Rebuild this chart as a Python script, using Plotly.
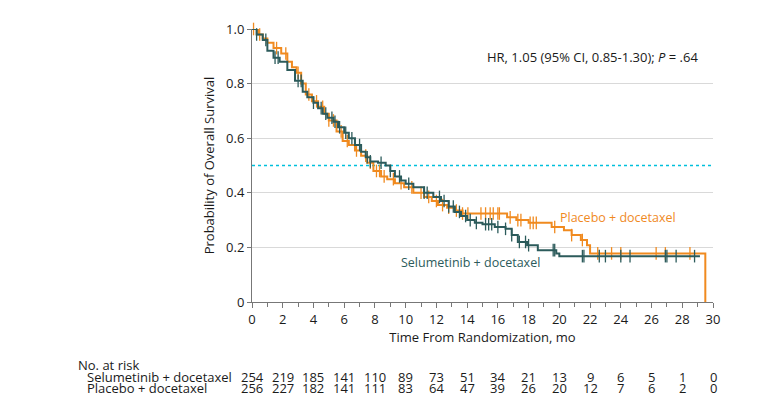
import plotly.graph_objects as go

# Kaplan-Meier step points (months, survival probability)
sel_t = [0, 0.3, 0.7, 1.0, 1.4, 1.8, 2.3, 2.8, 3.3, 3.6, 4.0, 4.3, 4.6, 4.9, 5.3, 5.6, 6.0,
         6.3, 6.7, 7.1, 7.4, 7.7, 8.2, 8.7, 9.0, 9.3, 9.7, 10.0, 10.5, 11.2, 11.8, 12.3,
         12.8, 13.2, 13.6, 14.0, 14.5, 15.0, 15.8, 16.5, 16.9, 17.3, 17.9, 18.6, 19.8,
         20.0, 29.15]
sel_s = [1.00, 0.98, 0.96, 0.92, 0.895, 0.88, 0.85, 0.81, 0.77, 0.75, 0.73, 0.71, 0.69,
         0.675, 0.66, 0.64, 0.62, 0.60, 0.575, 0.55, 0.53, 0.515, 0.51, 0.50, 0.48, 0.46,
         0.445, 0.433, 0.42, 0.40, 0.385, 0.37, 0.35, 0.33, 0.315, 0.30, 0.29, 0.285,
         0.275, 0.268, 0.245, 0.22, 0.208, 0.19, 0.178, 0.168, 0.168]

pla_t = [0, 0.4, 0.7, 1.0, 1.4, 1.9, 2.3, 2.6, 2.9, 3.2, 3.5, 3.9, 4.3, 4.7, 5.0, 5.5, 5.9,
         6.3, 6.7, 7.1, 7.5, 7.9, 8.4, 8.8, 9.3, 9.9, 10.5, 11.2, 11.7, 12.1, 12.7, 13.2,
         13.7, 16.6, 17.2, 18.0, 19.5, 20.3, 20.8, 21.4, 21.8, 22.0, 29.5]
pla_s = [1.00, 0.98, 0.965, 0.95, 0.93, 0.91, 0.88, 0.86, 0.84, 0.80, 0.76, 0.735, 0.715,
         0.69, 0.665, 0.625, 0.59, 0.575, 0.555, 0.536, 0.51, 0.48, 0.46, 0.45, 0.435,
         0.42, 0.40, 0.385, 0.37, 0.355, 0.345, 0.335, 0.324, 0.31, 0.30, 0.29, 0.275,
         0.263, 0.245, 0.227, 0.208, 0.178, 0.0]

# censoring times
sel_cens = [0.3, 0.9, 1.5, 1.7, 3.0, 3.2, 4.0, 4.5, 4.8, 5.2, 5.4, 5.7, 6.1, 6.5, 7.0, 7.5,
            7.7, 8.4, 9.0, 9.6, 10.2, 11.2, 11.4, 12.2, 12.5, 12.8, 13.1, 13.5, 13.9, 14.2,
            14.6, 15.2, 15.4, 15.6, 16.0, 16.5, 16.9, 17.4, 17.8, 18.0, 19.6, 19.7, 21.5,
            21.6, 22.6, 23.0, 24.0, 24.6, 26.9, 27.0, 27.6, 28.8]
pla_cens = [0.1, 0.5, 1.6, 2.2, 3.0, 3.7, 4.2, 4.6, 5.0, 5.3, 5.8, 6.2, 6.8, 7.4, 7.7, 8.1,
            8.3, 8.6, 9.2, 9.7, 10.4, 11.0, 11.5, 12.0, 12.4, 12.8, 13.3, 13.7, 14.05, 14.9,
            15.2, 15.5, 15.7, 16.0, 16.1, 16.8, 17.3, 17.5, 18.1, 18.3, 18.5, 19.7, 20.8,
            21.5, 22.5, 23.4, 24.0, 26.3, 26.9, 28.5]

risk_times = [0, 2, 4, 6, 8, 10, 12, 14, 16, 18, 20, 22, 24, 26, 28, 30]
sel_risk = [254, 219, 185, 141, 110, 89, 73, 51, 34, 21, 13, 9, 6, 5, 1, 0]
pla_risk = [256, 227, 182, 141, 111, 83, 64, 47, 39, 26, 20, 12, 7, 6, 2, 0]

SEL = "#2c5b5b"
PLA = "#f08a1f"
TXT = "#1a1a1a"
FONT = "Open Sans"


def step_at(ts, ss, t):
    val = ss[0]
    for ti, si in zip(ts, ss):
        if ti <= t:
            val = si
    return val


fig = go.Figure()

fig.add_trace(go.Scatter(x=[0, 30], y=[0.5, 0.5], mode="lines",
                         line=dict(color="#00c0dc", width=1.4, dash="dot"),
                         hoverinfo="skip", showlegend=False))

for ts, ss, cens, col in [(pla_t, pla_s, pla_cens, PLA), (sel_t, sel_s, sel_cens, SEL)]:
    fig.add_trace(go.Scatter(x=ts, y=ss, mode="lines", line=dict(color=col, width=2, shape="hv"),
                             showlegend=False, cliponaxis=False))
    fig.add_trace(go.Scatter(x=cens, y=[step_at(ts, ss, c) for c in cens], mode="markers",
                             marker=dict(symbol="line-ns-open", size=9, color=col,
                                         line=dict(color=col, width=1.3)),
                             showlegend=False, cliponaxis=False))

fig.add_annotation(x=29.15, y=0.898, xref="x", yref="y", xanchor="right", showarrow=False,
                   text="HR, 1.05 (95% CI, 0.85-1.30); <i>P</i> = .64",
                   font=dict(size=13, color=TXT, family=FONT))
fig.add_annotation(x=19.9, y=0.309, xref="x", yref="y", xanchor="left", showarrow=False,
                   text="Placebo + docetaxel", font=dict(size=12.5, color=PLA, family=FONT))
fig.add_annotation(x=9.55, y=0.145, xref="x", yref="y", xanchor="left", showarrow=False,
                   text="Selumetinib + docetaxel", font=dict(size=12.5, color=SEL, family=FONT))

# number at risk table
fig.add_annotation(x=-0.382, y=-0.2727, xref="paper", yref="paper", xanchor="left",
                   showarrow=False, text="No. at risk", font=dict(size=13, color=TXT, family=FONT))
for label, row, yy in [("Selumetinib + docetaxel", sel_risk, -0.3145),
                       ("Placebo + docetaxel", pla_risk, -0.3564)]:
    fig.add_annotation(x=-0.3623, y=yy, xref="paper", yref="paper", xanchor="left",
                       showarrow=False, text=label, font=dict(size=13, color=TXT, family=FONT))
    for t, n in zip(risk_times, row):
        fig.add_annotation(x=t, y=yy, xref="x", yref="paper", xanchor="center",
                           showarrow=False, text=str(n),
                           font=dict(size=13, color=TXT, family=FONT))

fig.update_layout(
    width=780, height=409,
    margin=dict(l=244, r=75, t=19, b=115),
    plot_bgcolor="white", paper_bgcolor="white",
    font=dict(family=FONT, size=13, color=TXT),
)
fig.update_xaxes(range=[0, 30], dtick=2, tick0=0, showgrid=False, zeroline=False,
                 showline=True, linecolor="#777777", linewidth=1,
                 ticks="outside", ticklen=5, tickcolor="#777777",
                 minor=dict(dtick=1, ticks="outside", ticklen=4, tickcolor="#777777"),
                 title=dict(text="Time From Randomization, mo", standoff=5, font=dict(size=13)))
fig.update_yaxes(range=[0, 1.0], tickvals=[0, 0.2, 0.4, 0.6, 0.8, 1.0],
                 ticktext=["0", "0.2", "0.4", "0.6", "0.8", "1.0"],
                 showgrid=True, gridcolor="#d9d9d9", gridwidth=1, zeroline=False,
                 showline=True, linecolor="#777777", linewidth=1,
                 ticks="outside", ticklen=4, tickcolor="#777777",
                 title=dict(text="Probability of Overall Survival", standoff=8, font=dict(size=13)))

fig.write_html("out.html")
